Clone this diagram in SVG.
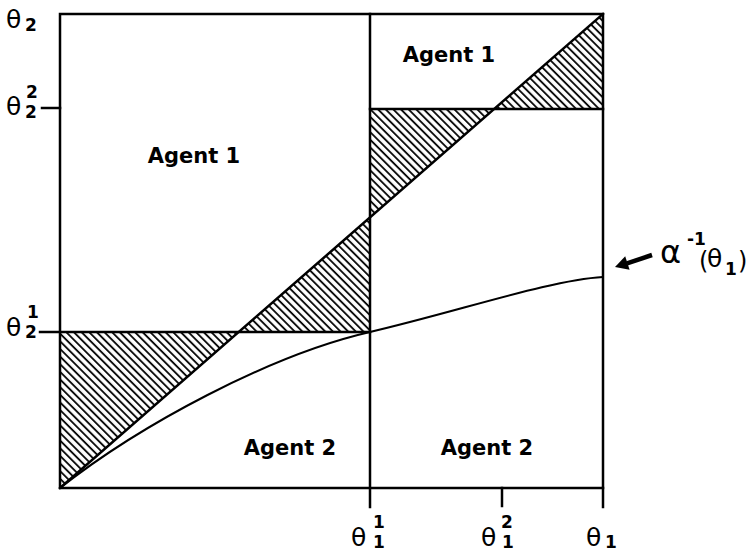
<svg xmlns="http://www.w3.org/2000/svg" width="747" height="553" viewBox="0 0 747 553">
<defs>
<pattern id="hatch" patternUnits="userSpaceOnUse" width="5.4" height="10" patternTransform="rotate(-45)">
<line x1="1" y1="-1" x2="1" y2="11" stroke="#000" stroke-width="1.8"/>
</pattern>
</defs>
<style>
.ln{stroke:#000;stroke-width:2.5;fill:none;stroke-linecap:square}
.thin{stroke:#000;stroke-width:2;fill:none}
.th{font-family:"DejaVu Sans",sans-serif;font-size:25px;fill:#000}
.al{font-family:"DejaVu Sans",sans-serif;font-size:32px;fill:#000}
.par{font-family:"DejaVu Sans",sans-serif;font-size:24px;fill:#000}
.idx{font-family:"DejaVu Sans",sans-serif;font-weight:bold;font-size:17px;fill:#000}
.ag{font-family:"DejaVu Sans",sans-serif;font-weight:bold;font-size:21px;fill:#000;text-anchor:middle}
</style>
<rect width="747" height="553" fill="#fff"/>
<g id="hatched">
<polygon points="60,332 238.7,332 60,488" fill="url(#hatch)"/>
<polygon points="238.7,332 370,332 370,217.4" fill="url(#hatch)"/>
<polygon points="370,109 494,109 370,217.4" fill="url(#hatch)"/>
<polygon points="494,109 603,14 603,109" fill="url(#hatch)"/>
</g>
<g id="connectors">
<rect x="60" y="14" width="543" height="474" class="ln"/>
<line x1="370" y1="14" x2="370" y2="507" class="ln"/>
<line x1="40" y1="332" x2="370" y2="332" class="ln"/>
<line x1="370" y1="109" x2="603" y2="109" class="ln"/>
<line x1="42" y1="108" x2="60" y2="108" class="ln"/>
<line x1="502" y1="488" x2="502" y2="506" class="ln"/>
<line x1="603" y1="488" x2="603" y2="507" class="ln"/>
<line x1="60" y1="488" x2="603" y2="14" class="ln"/>
<path d="M60,488 C140,425 270,355 370,332 C460,311 550,280 603,277" class="thin"/>
<line x1="652" y1="255" x2="627" y2="263.3" stroke="#000" stroke-width="4.5"/>
<polygon points="615,267 629.6,269.7 625.2,256.3" fill="#000"/>
</g>
<g id="agent1-left"><text x="194" y="163" class="ag">Agent 1</text></g>
<g id="agent1-right"><text x="449" y="62" class="ag">Agent 1</text></g>
<g id="agent2-left"><text x="290" y="455" class="ag">Agent 2</text></g>
<g id="agent2-right"><text x="487" y="455" class="ag">Agent 2</text></g>
<g id="y-labels">
<text x="6" y="28" class="th">θ</text><text x="25" y="31" class="idx">2</text>
<text x="6" y="115" class="th">θ</text><text x="26" y="98" class="idx">2</text><text x="25" y="118" class="idx">2</text>
<text x="6" y="336" class="th">θ</text><text x="27" y="318" class="idx">1</text><text x="25" y="338" class="idx">2</text>
</g>
<g id="x-labels">
<text x="351" y="546" class="th">θ</text><text x="373" y="528" class="idx">1</text><text x="373" y="548" class="idx">1</text>
<text x="481" y="546" class="th">θ</text><text x="501" y="528" class="idx">2</text><text x="502" y="548" class="idx">1</text>
<text x="586" y="546" class="th">θ</text><text x="605" y="548" class="idx">1</text>
</g>
<g id="alpha-label">
<text x="660" y="263" class="al">α</text>
<text x="687" y="245" class="idx">-1</text>
<text x="699" y="269" class="par">(</text>
<text x="707" y="267" class="th">θ</text>
<text x="725" y="275" class="idx">1</text>
<text x="738" y="269" class="par">)</text>
</g>
</svg>
